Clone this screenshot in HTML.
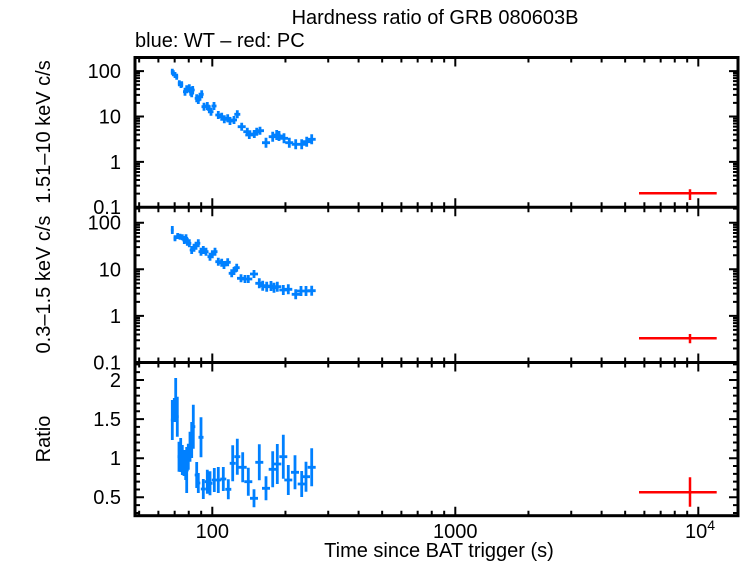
<!DOCTYPE html>
<html><head><meta charset="utf-8"><style>
html,body{margin:0;padding:0;background:#fff;}
svg{display:block;}
text{font-family:"Liberation Sans",Arial,sans-serif;font-size:20px;fill:#000;}
</style></head><body>
<svg width="742" height="566" viewBox="0 0 742 566" xmlns="http://www.w3.org/2000/svg">
<rect width="742" height="566" fill="#fff"/>
<defs>
<path id="xd" d="M139.15 0v5M158.39 0v5M174.66 0v5M188.75 0v5M201.18 0v5M212.3 0v9M285.45 0v5M328.24 0v5M358.6 0v5M382.15 0v5M401.39 0v5M417.66 0v5M431.75 0v5M444.18 0v5M455.3 0v9M528.45 0v5M571.24 0v5M601.6 0v5M625.15 0v5M644.39 0v5M660.66 0v5M674.75 0v5M687.18 0v5M698.3 0v9"/>
<path id="y1" d="M0 71.1h9M0 116.5h9M0 161.9h9M0 73.18h5M0 75.5h5M0 78.13h5M0 81.17h5M0 84.77h5M0 89.17h5M0 94.84h5M0 102.83h5M0 118.58h5M0 120.9h5M0 123.53h5M0 126.57h5M0 130.17h5M0 134.57h5M0 140.24h5M0 148.23h5M0 163.98h5M0 166.3h5M0 168.93h5M0 171.97h5M0 175.57h5M0 179.97h5M0 185.64h5M0 193.63h5"/>
<path id="y2" d="M0 222.7h9M0 269.3h9M0 315.9h9M0 208.67h5M0 224.83h5M0 227.22h5M0 229.92h5M0 233.04h5M0 236.73h5M0 241.24h5M0 247.07h5M0 255.27h5M0 271.43h5M0 273.82h5M0 276.52h5M0 279.64h5M0 283.33h5M0 287.84h5M0 293.67h5M0 301.87h5M0 318.03h5M0 320.42h5M0 323.12h5M0 326.24h5M0 329.93h5M0 334.44h5M0 340.27h5M0 348.47h5"/>
<path id="y3" d="M0 380h9M0 419.1h9M0 458.2h9M0 497.3h9M0 364.36h5M0 372.18h5M0 387.82h5M0 395.64h5M0 403.46h5M0 411.28h5M0 426.92h5M0 434.74h5M0 442.56h5M0 450.38h5M0 466.02h5M0 473.84h5M0 481.66h5M0 489.48h5M0 505.12h5M0 512.94h5"/>
</defs>
<g stroke="#000" stroke-width="2" fill="none">
<use href="#xd" y="57.5"/>
<use href="#xd" y="207.3"/>
<use href="#xd" y="362.5"/>
<use href="#xd" transform="translate(0,207.3) scale(1,-1)"/>
<use href="#xd" transform="translate(0,362.5) scale(1,-1)"/>
<use href="#xd" transform="translate(0,515.7) scale(1,-1)"/>
<use href="#y1" x="135"/><use href="#y2" x="135"/><use href="#y3" x="135"/>
<use href="#y1" transform="translate(738,0) scale(-1,1)"/>
<use href="#y2" transform="translate(738,0) scale(-1,1)"/>
<use href="#y3" transform="translate(738,0) scale(-1,1)"/>
</g>
<g stroke="#000" stroke-width="3" fill="none">
<rect x="135" y="57.5" width="603" height="458.2"/>
<path d="M135 207.3H738M135 362.5H738"/>
</g>
<g stroke="#0080ff" stroke-width="2.8" fill="none">
<path d="M170.8 71.7h3M172.3 68.7v6M171.8 73.3h3M173.3 70.3v6M173.5 75h3M175 72v6M175.2 76.7h3M176.7 73.7v6M177.8 83.3h3M179.3 80.3v6M179.5 85h3M181 82v6M180.2 84.3h3M181.7 81.3v6M183 91.7h4M185 87.7v8M184.7 89.3h4M186.7 85.3v8M187.3 88.3h4M189.3 84.3v8M188.7 91.7h4M190.7 87.7v8M190.7 90h4M192.7 86v8M189.7 93.3h4M191.7 89.3v8M194.7 98.3h4M196.7 94.3v8M196.3 100h4M198.3 96v8M198 96.7h4M200 92.7v8M199.7 94.3h4M201.7 90.3v8M201.5 106.7h5M204 102.7v8M204.8 106h5M207.3 102v8M206.8 109.3h5M209.3 105.3v8M208.5 111.7h5M211 107.7v8M211.5 106h5M214 102v8M215.3 115h6M218.3 111v8M218.7 116.7h6M221.7 112.7v8M221.3 119.3h6M224.3 115.3v8M224.7 118.3h6M227.7 114.3v8M227 121h6M230 117v8M231 120h6M234 116v8M234.3 114.3h6M237.3 110.3v8M237.7 126.7h8M241.7 122.7v8M243.3 131.7h8M247.3 127.7v8M245.3 135h8M249.3 131v8M250.3 134h8M254.3 130v8M252.7 131.7h8M256.7 127.7v8M256 130.7h8M260 126.7v8M262 142.7h8M266 137.7v10M268.7 136.7h8M272.7 131.7v10M272.7 135h8M276.7 130v10M275 136h8M279 131v10M280 138.3h8M284 133.3v10M285.3 142.7h8M289.3 137.7v10M291.7 144.3h8M295.7 139.3v10M297.7 144.3h8M301.7 139.3v10M302.7 141.7h8M306.7 136.7v10M307.7 139.3h8M311.7 134.3v10"/>
<path d="M170.8 230h3M172.3 226v8M173.5 238.3h3M175 235.3v6M176.2 236h3M177.7 233v6M178.5 236.7h3M180 233.7v6M180.8 237.3h3M182.3 234.3v6M182.3 240h4M184.3 236v8M184 238.3h4M186 234.3v8M185.3 241.7h4M187.3 237.7v8M187.3 243.3h4M189.3 239.3v8M189.7 250h4M191.7 246v8M192 247.7h4M194 243.7v8M194 245.7h4M196 241.7v8M196.3 243.3h4M198.3 239.3v8M198.5 251.7h5M201 247.7v8M200.8 250h5M203.3 246v8M203.5 251.7h5M206 247.7v8M207.5 256.7h5M210 252.7v8M209.8 254.3h5M212.3 250.3v8M212.5 251.7h5M215 247.7v8M215.3 261.7h6M218.3 257.7v8M218.7 262.7h6M221.7 258.7v8M221 265h6M224 261v8M224.7 262.3h6M227.7 258.3v8M228.7 273.3h6M231.7 269.3v8M231 271h6M234 267v8M233.7 267.7h6M236.7 263.7v8M237 278.3h8M241 274.3v8M241 279h8M245 275v8M244.3 279h8M248.3 275v8M250 274h8M254 270v8M255.3 283.3h8M259.3 278.3v10M258.7 285.7h8M262.7 280.7v10M262.7 286.7h8M266.7 281.7v10M267 286h8M271 281v10M270 287.7h8M274 282.7v10M273.3 286.7h8M277.3 281.7v10M279.3 290h8M283.3 285v10M284.3 289.3h8M288.3 284.3v10M291.7 294.3h8M295.7 289.3v10M297 291h8M301 286v10M302 291h8M306 286v10M307.7 290.7h8M311.7 285.7v10"/>
<path d="M170.8 420h3M172.3 400v40M172.8 410h3M174.3 398v24M174.2 400h3M175.7 378v44M175.8 416.7h3M177.3 396.7v40M177.5 456.7h3M179 441.7v30M179.2 455h3M180.7 438v34M180.8 460h3M182.3 445v30M182 463h4M184 450v26M183.7 467h4M185.7 454v26M184.7 470h4M186.7 447v46M186.3 456.7h4M188.3 443.7v26M188 446.7h4M190 431.7v30M189.7 440h4M191.7 422v36M191.3 426.7h4M193.3 404.7v44M194.7 475h4M196.7 462v26M196.3 483h4M198.3 473v20M198.5 437.3h5M201 417.3v40M200.8 489h5M203.3 479v20M204.8 481.7h5M207.3 469.7v24M207.5 483.3h5M210 471.3v24M211.8 480h5M214.3 468v24M215.3 480h6M218.3 467v26M220.3 479h6M223.3 467v24M225.3 489.3h6M228.3 479.3v20M229.7 463.3h6M232.7 445.3v36M234.3 456.7h6M237.3 438.7v36M238.7 467.3h8M242.7 452.3v30M244.3 481.7h8M248.3 467.7v28M250 498.3h8M254 489.3v18M255.3 462.3h8M259.3 444.3v36M262 488.3h8M266 476.3v24M268.7 469.3h8M272.7 451.3v36M273.3 464h8M277.3 444v40M279.3 456.7h8M283.3 434.7v44M284.3 480h8M288.3 465v30M291 472.3h8M295 455.3v34M297.7 484h8M301.7 471v26M302 476.7h8M306 461.7v30M307.7 467.3h8M311.7 448.3v38"/>
</g>
<g stroke="#ff0000" stroke-width="2.5" fill="none">
<path d="M639 193.3H716.7M690 189.3V200M639 338.3H716.7M690 334V343.3M639 492.3H716.7M690 477.3V506.7"/>
</g>
<text x="435" y="24" text-anchor="middle">Hardness ratio of GRB 080603B</text>
<text x="135" y="47">blue: WT – red: PC</text>
<g text-anchor="end">
<text x="121" y="78">100</text>
<text x="121" y="123.5">10</text>
<text x="121" y="169">1</text>
<text x="121" y="214">0.1</text>
<text x="121" y="229.7">100</text>
<text x="121" y="276.3">10</text>
<text x="121" y="322.9">1</text>
<text x="121" y="369.5">0.1</text>
<text x="121" y="387">2</text>
<text x="121" y="426">1.5</text>
<text x="121" y="465">1</text>
<text x="121" y="504">0.5</text>
</g>
<g text-anchor="middle">
<text x="212.3" y="538">100</text>
<text x="455.3" y="538">1000</text>
<text x="439" y="557">Time since BAT trigger (s)</text>
</g>
<text x="685" y="538">10<tspan font-size="14" dy="-8">4</tspan></text>
<g text-anchor="middle">
<text transform="translate(50,132) rotate(-90)">1.51–10 keV c/s</text>
<text transform="translate(50,284.5) rotate(-90)">0.3–1.5 keV c/s</text>
<text transform="translate(50,439) rotate(-90)">Ratio</text>
</g>
</svg>
</body></html>
